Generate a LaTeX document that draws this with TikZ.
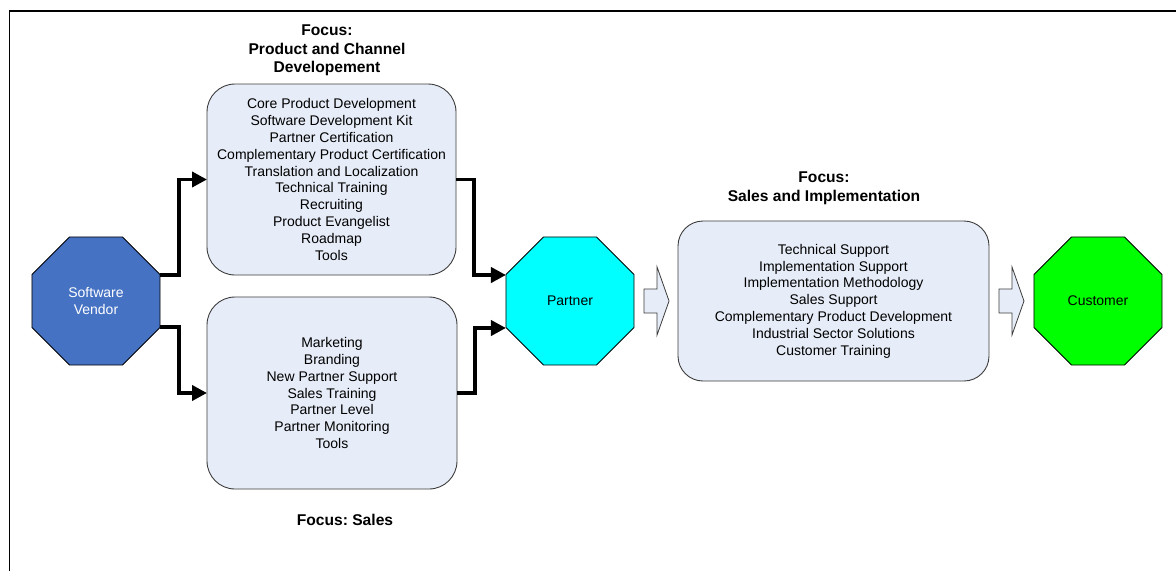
\documentclass[tikz,border=0pt]{standalone}
\usepackage{fontspec}
\setmainfont{Liberation Sans}
\usetikzlibrary{shapes.geometric,arrows.meta,calc}
\definecolor{vendorblue}{RGB}{70,114,196}
\definecolor{partnercyan}{RGB}{0,255,255}
\definecolor{customergreen}{RGB}{0,255,0}
\definecolor{boxfill}{RGB}{231,237,248}
\definecolor{boxline}{RGB}{60,60,60}
\frenchspacing
\begin{document}
\begin{tikzpicture}[x=1pt,y=-1pt,
  octo/.style={regular polygon, regular polygon sides=8, minimum size=138.6pt,
    inner sep=0pt, outer sep=0pt, draw=black, line width=0.8pt,
    font=\fontsize{14}{16.8}\selectfont, align=center},
  listbox/.style={draw=boxline, fill=boxfill, rounded corners=28pt, line width=0.9pt,
    align=center, font=\fontsize{14}{16.8}\selectfont, inner sep=0pt, outer sep=0pt},
  focus/.style={font=\fontsize{15.6}{18.5}\selectfont\bfseries, align=center},
  conn/.style={line width=3.8pt, -{Triangle[length=15pt,width=15pt]}},
  blockarr/.pic={\draw[draw=boxline, fill=boxfill, line width=0.8pt]
    (0,-12) -- (13,-12) -- (13,-34) -- (25,0) -- (13,34) -- (13,12) -- (0,12) -- cycle;}
]
\useasboundingbox (0,0) rectangle (1176,571);

% frame
\draw[line width=1.8pt] (9.5,571) -- (9.5,11) -- (1176,11);

% actors
\node[octo, fill=vendorblue, text=white] (vendor) at (96,301) {Software\\Vendor};
\node[octo, fill=partnercyan] (partner) at (570,301) {Partner};
\node[octo, fill=customergreen] (customer) at (1098,301) {Customer};

% activity boxes
\node[listbox, minimum width=249pt, minimum height=191pt] (top) at (331.5,179.5)
  {Core Product Development\\Software Development Kit\\Partner Certification\\
   Complementary Product Certification\\Translation and Localization\\
   Technical Training\\Recruiting\\Product Evangelist\\Roadmap\\Tools};
\node[listbox, minimum width=250pt, minimum height=192pt] (bot) at (332,393)
  {Marketing\\Branding\\New Partner Support\\Sales Training\\Partner Level\\
   Partner Monitoring\\Tools};
\node[listbox, rounded corners=25pt, minimum width=311pt, minimum height=160pt] (sales) at (833.5,301)
  {Technical Support\\Implementation Support\\Implementation Methodology\\
   Sales Support\\Complementary Product Development\\Industrial Sector Solutions\\
   Customer Training};

% headings
\node[focus] (f1) at (327,50.5) {Focus:\\Product and Channel\\Developement};
\node[focus] (f2) at (345,520) {Focus: Sales};
\node[focus] (f3) at (824,188) {Focus:\\Sales and Implementation};

% connectors
\draw[conn] ($(vendor.east)+(0,-26)$) -- ++(19,0) |- (top.west);
\draw[conn] ($(vendor.east)+(0,26)$) -- ++(19,0) |- (bot.west);
\draw[conn] (top.east) -- ++(18,0) |- ($(partner.west)+(0,-26)$);
\draw[conn] (bot.east) -- ++(18,0) |- ($(partner.west)+(0,27)$);

% block arrows
\path ($(partner.east)+(10,0)$) coordinate (a1);
\path ($(sales.east)+(10,0)$) coordinate (a2);
\pic at (a1) {blockarr};
\pic at (a2) {blockarr};
\end{tikzpicture}
\end{document}
